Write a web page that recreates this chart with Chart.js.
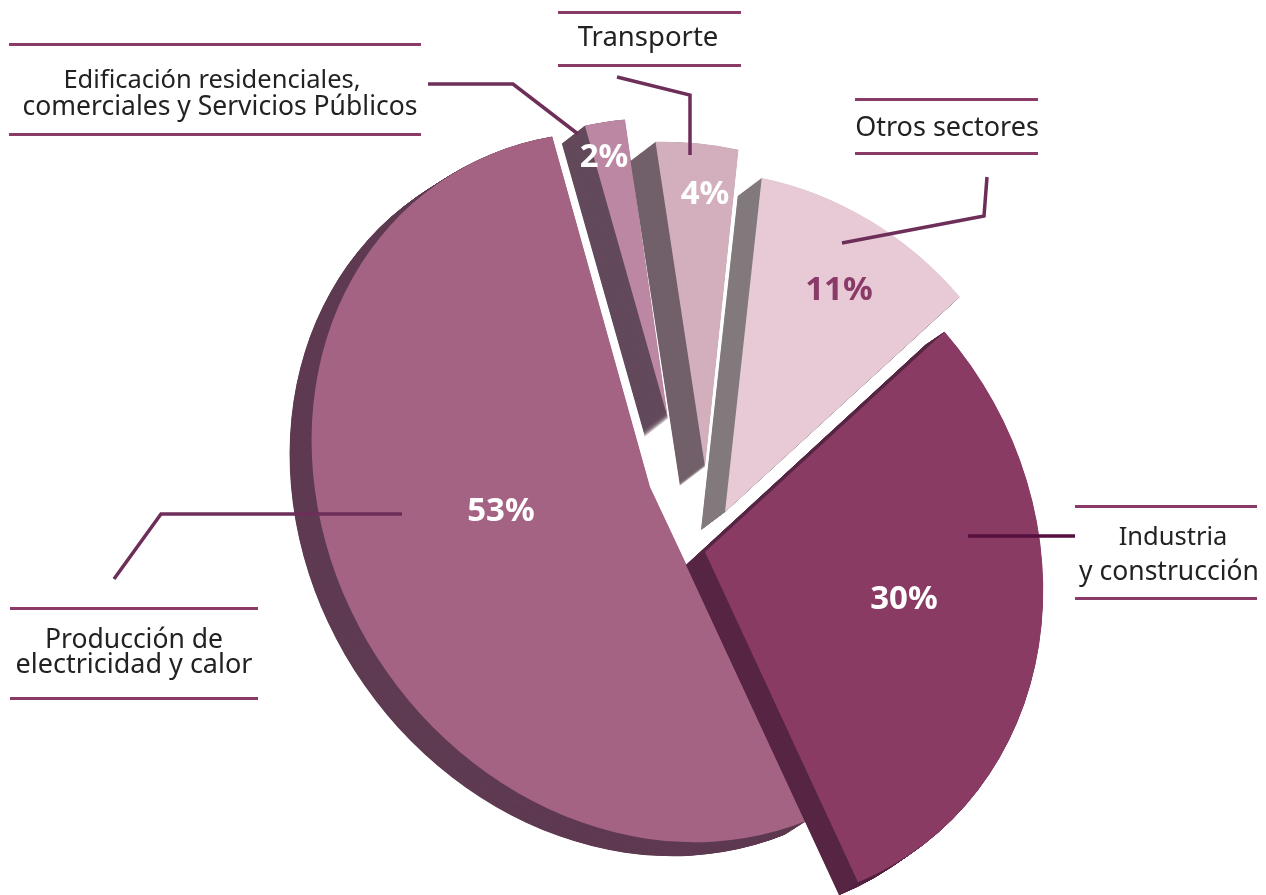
<!DOCTYPE html>
<html>
<head>
<meta charset="utf-8">
<title>Sectores</title>
<script src="https://cdn.jsdelivr.net/npm/chart.js@4"></script>
<style>
html, body { margin: 0; padding: 0; background: #fff; }
canvas { display: block; }
</style>
</head>
<body>
<canvas id="chart-sectores" width="1266" height="895"></canvas>
<script>
// data
var sectores = ['Industria y construcción', 'Producción de electricidad y calor', 'Edificación residenciales, comerciales y Servicios Públicos', 'Transporte', 'Otros sectores'];
var valores = [30, 53, 2, 4, 11];

// look of each slice, same order as sectores
var colores = ['#8a3b63', '#a46382', '#bc87a2', '#d3afbe', '#e7cad6'];
var coloresLado = ['#572644', '#5f3b52', '#634a5b', '#72606a', '#837a7d'];
var centros = [[705, 552], [650, 487], [668, 419], [705, 467], [725, 512]];
var lados = [[-19, 13], [-22, 14], [-23, 18], [-25, 19], [-24, 18]];
var ordenDibujo = [1, 2, 3, 4, 0];

// the pie is seen in perspective, so each slice gets its own squash (a, c, b, d / RADIO)
var RADIO = 350;
var formas = [
    [338, 25, 13, 352],
    [338, 29, 17, 354],
    [326, 5, 5, 301],
    [331, 29, 11, 324],
    [326, 21, 7, 340]
];

// texts and leader lines
var colorRegla = '#8a3a66';
var colorGuia = '#6d2f59';
var reglas = [
    [9, 421, 44], [9, 421, 134],
    [558, 741, 12], [558, 741, 65],
    [855, 1038, 99], [855, 1038, 153],
    [1075, 1257, 506], [1075, 1257, 598],
    [10, 258, 608], [10, 258, 698]
];
var guias = [
    [[428, 84], [513, 84], [578, 134]],
    [[617, 77], [690, 95], [690, 155]],
    [[987, 177], [984, 216], [842, 243]],
    [[114, 579], [161, 514], [402, 514]]
];
var guiaIndustria = [[968, 536], [1075, 536]];
var textos = [
    ['Edificación residenciales,', 212, 81, 25.5],
    ['comerciales y Servicios Públicos', 220, 107, 26.5],
    ['Transporte', 648, 38, 27.5],
    ['Otros sectores', 947, 128, 27],
    ['Industria', 1173, 538, 25.5],
    ['y construcción', 1169, 572, 26.5],
    ['Producción de', 134, 640, 26.5],
    ['electricidad y calor', 134, 665, 27]
];
var porcentajes = [
    ['30%', 904, 600, '#ffffff'],
    ['53%', 501, 512, '#ffffff'],
    ['2%', 604, 158, '#ffffff'],
    ['4%', 705, 195, '#ffffff'],
    ['11%', 839, 291, '#8a3a66']
];

function dibujarCuna(ctx, arc, i) {
    var f = formas[i];
    ctx.save();
    ctx.translate(centros[i][0], centros[i][1]);
    ctx.transform(f[0] / RADIO, f[1] / RADIO, f[2] / RADIO, f[3] / RADIO, 0, 0);
    ctx.translate(-centros[i][0], -centros[i][1]);
    arc.draw(ctx);
    ctx.restore();
}

var pieExplotado = {
    id: 'pieExplotado',
    afterDatasetsUpdate: function (chart) {
        chart.getDatasetMeta(0).data.forEach(function (arc, i) {
            arc.x = centros[i][0];
            arc.y = centros[i][1];
        });
    },
    beforeDatasetsDraw: function (chart) {
        var ctx = chart.ctx;
        var arcs = chart.getDatasetMeta(0).data;
        ordenDibujo.forEach(function (i) {
            var arc = arcs[i];
            // side of the slice: pull the wedge along the depth direction
            arc.options.backgroundColor = coloresLado[i];
            for (var paso = 60; paso >= 1; paso--) {
                ctx.save();
                ctx.translate(lados[i][0] * paso / 60, lados[i][1] * paso / 60);
                dibujarCuna(ctx, arc, i);
                ctx.restore();
            }
            arc.options.backgroundColor = colores[i];
            dibujarCuna(ctx, arc, i);
        });
        return false;
    },
    afterDraw: function (chart) {
        var ctx = chart.ctx;
        ctx.save();
        ctx.lineCap = 'butt';
        ctx.lineJoin = 'miter';

        ctx.strokeStyle = colorRegla;
        ctx.lineWidth = 3;
        reglas.forEach(function (r) {
            ctx.beginPath();
            ctx.moveTo(r[0], r[2] + 0.5);
            ctx.lineTo(r[1], r[2] + 0.5);
            ctx.stroke();
        });

        ctx.strokeStyle = colorGuia;
        ctx.lineWidth = 3.5;
        guias.forEach(function (g) {
            ctx.beginPath();
            g.forEach(function (p, n) {
                if (n == 0) ctx.moveTo(p[0], p[1]);
                else ctx.lineTo(p[0], p[1]);
            });
            ctx.stroke();
        });
        ctx.strokeStyle = '#560f3e';
        ctx.beginPath();
        ctx.moveTo(guiaIndustria[0][0], guiaIndustria[0][1]);
        ctx.lineTo(guiaIndustria[1][0], guiaIndustria[1][1]);
        ctx.stroke();

        ctx.textAlign = 'center';
        ctx.textBaseline = 'middle';
        ctx.fillStyle = '#222222';
        textos.forEach(function (t) {
            ctx.font = t[3] + 'px "Noto Sans"';
            ctx.fillText(t[0], t[1], t[2]);
        });
        ctx.font = 'bold 33px "Noto Sans"';
        porcentajes.forEach(function (p) {
            ctx.fillStyle = p[3];
            ctx.fillText(p[0], p[1], p[2]);
        });
        ctx.restore();
    }
};

new Chart(document.getElementById('chart-sectores').getContext('2d'), {
    type: 'pie',
    data: {
        labels: sectores,
        datasets: [{
            data: valores,
            backgroundColor: colores,
            borderWidth: 0
        }]
    },
    options: {
        responsive: false,
        animation: false,
        rotation: 47.3,
        radius: RADIO,
        events: [],
        layout: { padding: 0 },
        plugins: {
            legend: { display: false },
            tooltip: { enabled: false }
        }
    },
    plugins: [pieExplotado]
});
</script>
</body>
</html>
